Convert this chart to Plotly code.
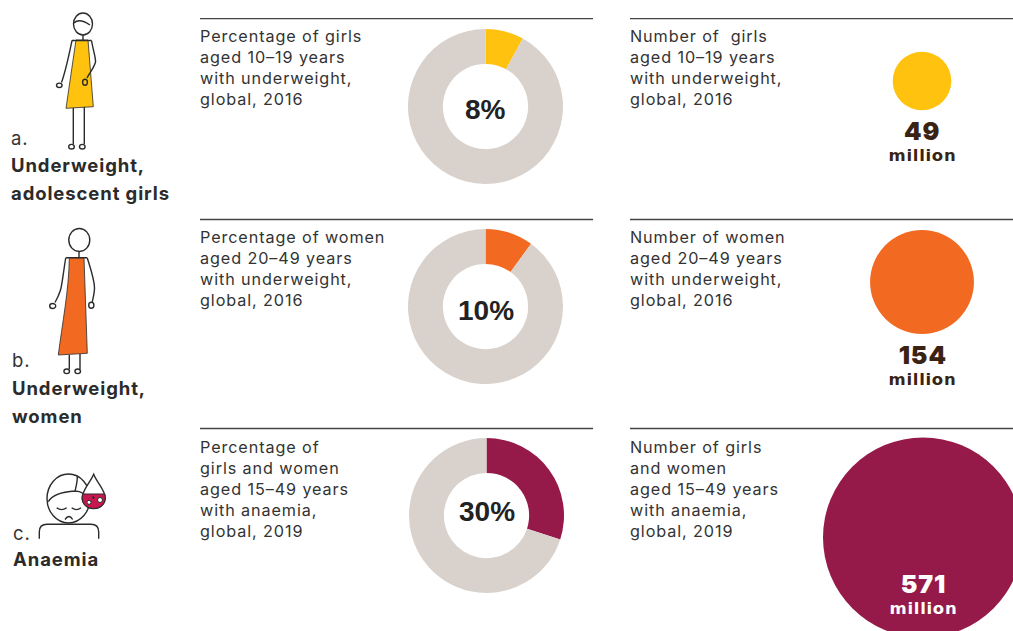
import plotly.graph_objects as go

W, H = 1013, 631
pct_values = [8, 10, 30]
pct_labels = ["8%", "10%", "30%"]
count_values = [49, 154, 571]
count_labels = ["49", "154", "571"]
colors = ["#FFC20E", "#F26A21", "#961A49"]
track = "#D9D2CC"
ink = "#2B2B2B"
pct_text = [
    "Percentage of girls<br>aged 10–19 years<br>with underweight,<br>global, 2016",
    "Percentage of women<br>aged 20–49 years<br>with underweight,<br>global, 2016",
    "Percentage of<br>girls and women<br>aged 15–49 years<br>with anaemia,<br>global, 2019",
]
num_text = [
    "Number of  girls<br>aged 10–19 years<br>with underweight,<br>global, 2016",
    "Number of women<br>aged 20–49 years<br>with underweight,<br>global, 2016",
    "Number of girls<br>and women<br>aged 15–49 years<br>with anaemia,<br>global, 2019",
]
row_letters = ["a.", "b.", "c."]
row_titles = [["Underweight,", "adolescent girls"], ["Underweight,", "women"], ["Anaemia"]]

# layout only
FONT = "Inter"
donut_c = [(485.5, 106.5), (485.5, 306.5), (486.5, 515.5)]
donut_r = 77.5
label_y = [109.5, 310, 511.5]
bubble_c = [(922, 81), (922, 282), (923, 537.5)]
rule_y = [18.7, 219.5, 428.5]
text_y = [26, 227, 437]
sub_y = [[131, 155], [355, 379], [584, 608]]
sub_col = ["#3B2314", "#3B2314", "#FFFFFF"]

fig = go.Figure()
for i in range(3):
    cx, cy = donut_c[i]
    fig.add_trace(go.Pie(
        values=[pct_values[i], 100 - pct_values[i]], hole=0.55, sort=False, direction="clockwise",
        rotation=0, textinfo="none", hoverinfo="skip", showlegend=False,
        marker=dict(colors=[colors[i], track], line=dict(width=0)),
        domain=dict(x=[(cx - donut_r) / W, (cx + donut_r) / W],
                    y=[1 - (cy + donut_r) / H, 1 - (cy - donut_r) / H]),
    ))
fig.add_trace(go.Scatter(
    x=[c[0] for c in bubble_c], y=[c[1] for c in bubble_c], mode="markers", hoverinfo="skip",
    showlegend=False,
    marker=dict(size=count_values, sizemode="area", sizeref=0.02855, color=colors, opacity=1, line=dict(width=0)),
))

shapes = []
def path(d, fill=None, w=1.4, col=ink):
    shapes.append(dict(type="path", path=d, xref="x", yref="y", layer="above",
                       fillcolor=fill or "rgba(0,0,0,0)", line=dict(color=col, width=w)))
def ell(cx, cy, rx, ry, fill=None, w=1.4, col=ink):
    shapes.append(dict(type="circle", xref="x", yref="y", x0=cx-rx, x1=cx+rx, y0=cy-ry, y1=cy+ry, layer="above",
                       fillcolor=fill or "rgba(0,0,0,0)", line=dict(color=col, width=w)))

for y in rule_y:
    path(f"M200,{y} L593,{y}", w=1.3, col="#444444")
    path(f"M630,{y} L1013,{y}", w=1.3, col="#444444")

# figure a
path("M76,40 L88,40 L93.3,106.7 L66,108.3 Z", fill=colors[0], w=0.8)
ell(83, 24, 9.5, 11)
path("M74,23 C78,19 84,21 90,25")
path("M83,35 L83,40 M72,40.5 L91.5,40.5")
path("M72,40.5 C69,55 66,70 61.5,82.5 M91.5,40.5 C93,50 96,58 95.5,62 C94,68 90,72 87,78")
ell(59.3, 85.3, 2.8, 2.2); ell(85, 82.3, 2.4, 3)
path("M73.3,108 L73.3,144 M84.3,107 L84.3,144")
ell(71.5, 146.7, 2.8, 2.3); ell(82.3, 146.7, 2.8, 2.3)

# figure b
path("M69.3,257.7 L84,257.7 L87.3,353.3 L58.3,355 C62,325 69,290 69.3,257.7 Z", fill=colors[1], w=0.8)
ell(79.3, 240, 10.5, 11.5)
path("M79,251.5 L79,257.7 M65.7,257.7 L87.3,257.7")
path("M65.7,258 C63,275 62,285 60.5,290 C59,295 57,299 55,302.5 M87.3,258 C91,270 94.5,280 94.5,288 C94.5,293 93,298 92.3,302")
ell(52.7, 306, 3, 2.5); ell(91.3, 305.3, 2.6, 3)
path("M69.3,355 L69.3,369 M80,354 L80,369")
ell(66.7, 371.3, 2.8, 2.3); ell(77.7, 371.3, 2.8, 2.3)

# figure c
ell(68.5, 498.5, 21.5, 24.5, fill="#FFFFFF")
path("M48.3,501.7 C52,495 60,492 75,491 C78,491 81,492 83.3,493.5 M77.3,476 C77.5,482 76,487 75,491")
path("M56.7,507.7 Q61.5,511.5 66.7,507.7 M71.7,507.7 Q76.5,511.5 81,507.7 M65,519.5 Q69,513.5 72.7,519.5")
path("M39.3,538.7 L39.3,532 Q39.3,524.3 47,524.3 L91,524.3 Q98.7,524.3 98.7,532 L98.7,538.7")
path("M93.7,474.3 C90,483 82.2,490 82.2,498 C82.2,504 87,508.5 93.7,508.5 C100.4,508.5 105.2,504 105.2,498 C105.2,490 97,483 93.7,474.3 Z", fill="#FFFFFF")
path("M82.6,494 L104.8,494 C105.1,495.5 105.2,497 105.2,498 C105.2,504 100.4,508.5 93.7,508.5 C87,508.5 82.2,504 82.2,498 C82.2,497 82.3,495.5 82.6,494 Z", fill="#C8174E", w=1)
ell(89, 502.3, 2, 2, fill="#FFFFFF", w=1); ell(100, 500, 2.5, 2.5, fill="#FFFFFF", w=1)
ell(93.3, 497.5, 1, 1, fill=ink, w=0.5)

anns = []
def txt(x, y, s, size, bold=False, col=ink, anchor="left", yanchor="top", family=FONT, weight=None):
    if bold:
        s = f"<b>{s}</b>"
    f = dict(family=family, size=size, color=col)
    if weight:
        f["weight"] = weight
    anns.append(dict(x=x, y=y, xref="x", yref="y", text=s, showarrow=False, xanchor=anchor, yanchor=yanchor,
                     align=anchor, borderpad=0, borderwidth=0, font=f))

letter_pos = [(11, 138), (12, 360), (13, 533)]
title_x = [11, 12, 13]
title_lines_y = [[165, 193], [388, 416], [559]]
for i in range(3):
    txt(letter_pos[i][0], letter_pos[i][1], row_letters[i], 18.5, col="#333333", yanchor="middle")
    for line, ly in zip(row_titles[i], title_lines_y[i]):
        txt(title_x[i], ly, line, 18.5, bold=True, yanchor="middle")
    txt(200, text_y[i], pct_text[i], 16.2, col="#333333")
    txt(629.5, text_y[i], num_text[i], 16.2, col="#333333")
    txt(donut_c[i][0], label_y[i], pct_labels[i], 28, bold=True, anchor="center", yanchor="middle",
        col="#222222", family="Liberation Sans")
    txt(bubble_c[i][0] + 0.5, sub_y[i][0], count_labels[i], 25, anchor="center", yanchor="middle",
        col=sub_col[i], weight=900)
    txt(bubble_c[i][0] + 0.5, sub_y[i][1], "million", 16.5, bold=True, anchor="center", yanchor="middle",
        col=sub_col[i], family="DejaVu Sans")

fig.update_layout(
    width=W, height=H, margin=dict(l=0, r=0, t=0, b=0), paper_bgcolor="white", plot_bgcolor="rgba(0,0,0,0)",
    xaxis=dict(range=[0, W], visible=False, fixedrange=True),
    yaxis=dict(range=[H, 0], visible=False, fixedrange=True),
    shapes=shapes, annotations=anns, showlegend=False,
)
css = ".annotation-text{letter-spacing:.9px}.annotation-text[style*=Liberation]{letter-spacing:0}.annotation-text[style*=DejaVu]{letter-spacing:.7px}"
fig.write_html("out.html", config=dict(displayModeBar=False),
               post_script="document.body.style.margin='0';document.body.style.overflow='hidden';"
                           "var s=document.createElement('style');s.textContent='" + css + "';document.head.appendChild(s);")
